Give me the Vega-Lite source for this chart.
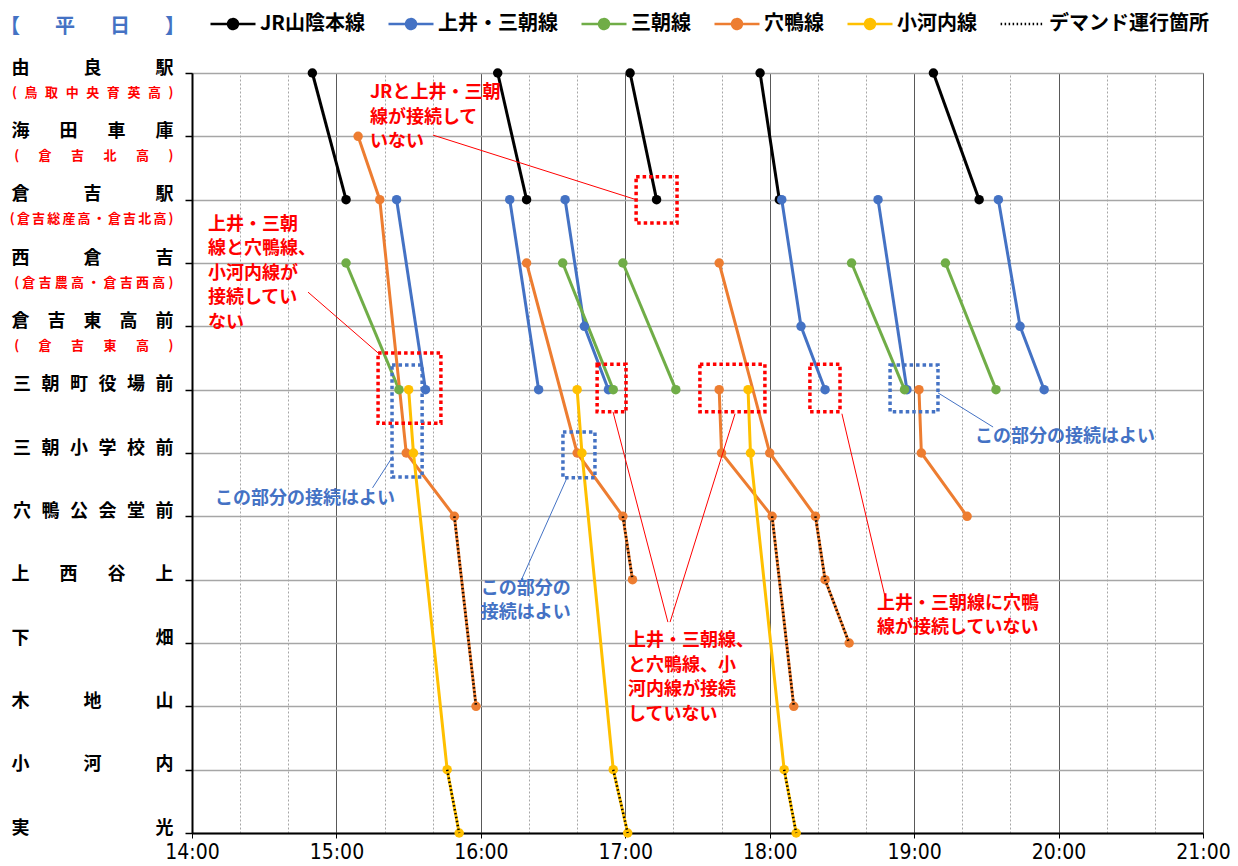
{
  "$schema": "https://vega.github.io/schema/vega-lite/v6.json",
  "width": 1011,
  "height": 760,
  "autosize": {"type": "none"},
  "padding": {"left": 192, "top": 73, "right": 35, "bottom": 33},
  "background": "white",
  "config": {
    "font": "Noto Sans CJK JP",
    "view": {"stroke": "#595959", "strokeWidth": 1}
  },
  "data": {
    "values": [
      {"line": "JR山陰本線", "trip": "JR1", "s": 0, "t": 890},
      {"line": "JR山陰本線", "trip": "JR1", "s": 2, "t": 904},
      {"line": "JR山陰本線", "trip": "JR2", "s": 0, "t": 967},
      {"line": "JR山陰本線", "trip": "JR2", "s": 2, "t": 979},
      {"line": "JR山陰本線", "trip": "JR3", "s": 0, "t": 1022},
      {"line": "JR山陰本線", "trip": "JR3", "s": 2, "t": 1033},
      {"line": "JR山陰本線", "trip": "JR4", "s": 0, "t": 1076},
      {"line": "JR山陰本線", "trip": "JR4", "s": 2, "t": 1084},
      {"line": "JR山陰本線", "trip": "JR5", "s": 0, "t": 1148},
      {"line": "JR山陰本線", "trip": "JR5", "s": 2, "t": 1167},
      {"line": "上井・三朝線", "trip": "U1", "s": 2, "t": 925},
      {"line": "上井・三朝線", "trip": "U1", "s": 5, "t": 937},
      {"line": "上井・三朝線", "trip": "U2", "s": 2, "t": 972},
      {"line": "上井・三朝線", "trip": "U2", "s": 5, "t": 984},
      {"line": "上井・三朝線", "trip": "U3", "s": 2, "t": 995},
      {"line": "上井・三朝線", "trip": "U3", "s": 4, "t": 1003},
      {"line": "上井・三朝線", "trip": "U3", "s": 5, "t": 1013},
      {"line": "上井・三朝線", "trip": "U4", "s": 2, "t": 1085},
      {"line": "上井・三朝線", "trip": "U4", "s": 4, "t": 1093},
      {"line": "上井・三朝線", "trip": "U4", "s": 5, "t": 1103},
      {"line": "上井・三朝線", "trip": "U5", "s": 2, "t": 1125},
      {"line": "上井・三朝線", "trip": "U5", "s": 5, "t": 1137},
      {"line": "上井・三朝線", "trip": "U6", "s": 2, "t": 1175},
      {"line": "上井・三朝線", "trip": "U6", "s": 4, "t": 1184},
      {"line": "上井・三朝線", "trip": "U6", "s": 5, "t": 1194},
      {"line": "三朝線", "trip": "M1", "s": 3, "t": 904},
      {"line": "三朝線", "trip": "M1", "s": 5, "t": 926},
      {"line": "三朝線", "trip": "M2", "s": 3, "t": 994},
      {"line": "三朝線", "trip": "M2", "s": 5, "t": 1015},
      {"line": "三朝線", "trip": "M3", "s": 3, "t": 1019},
      {"line": "三朝線", "trip": "M3", "s": 5, "t": 1041},
      {"line": "三朝線", "trip": "M4", "s": 3, "t": 1114},
      {"line": "三朝線", "trip": "M4", "s": 5, "t": 1136},
      {"line": "三朝線", "trip": "M5", "s": 3, "t": 1153},
      {"line": "三朝線", "trip": "M5", "s": 5, "t": 1174},
      {"line": "穴鴨線", "trip": "A1", "s": 1, "t": 909},
      {"line": "穴鴨線", "trip": "A1", "s": 2, "t": 918},
      {"line": "穴鴨線", "trip": "A1", "s": 6, "t": 929},
      {"line": "穴鴨線", "trip": "A1", "s": 7, "t": 949},
      {"line": "穴鴨線", "trip": "A1", "s": 10, "t": 958},
      {"line": "穴鴨線", "trip": "A2", "s": 3, "t": 979},
      {"line": "穴鴨線", "trip": "A2", "s": 6, "t": 1000},
      {"line": "穴鴨線", "trip": "A2", "s": 7, "t": 1019},
      {"line": "穴鴨線", "trip": "A2", "s": 8, "t": 1023},
      {"line": "穴鴨線", "trip": "A3", "s": 3, "t": 1059},
      {"line": "穴鴨線", "trip": "A3", "s": 6, "t": 1080},
      {"line": "穴鴨線", "trip": "A3", "s": 7, "t": 1099},
      {"line": "穴鴨線", "trip": "A3", "s": 8, "t": 1103},
      {"line": "穴鴨線", "trip": "A3", "s": 9, "t": 1113},
      {"line": "穴鴨線", "trip": "A4", "s": 5, "t": 1059},
      {"line": "穴鴨線", "trip": "A4", "s": 6, "t": 1060},
      {"line": "穴鴨線", "trip": "A4", "s": 7, "t": 1081},
      {"line": "穴鴨線", "trip": "A4", "s": 10, "t": 1090},
      {"line": "穴鴨線", "trip": "A5", "s": 5, "t": 1142},
      {"line": "穴鴨線", "trip": "A5", "s": 6, "t": 1143},
      {"line": "穴鴨線", "trip": "A5", "s": 7, "t": 1162},
      {"line": "小河内線", "trip": "K1", "s": 5, "t": 930},
      {"line": "小河内線", "trip": "K1", "s": 6, "t": 932},
      {"line": "小河内線", "trip": "K1", "s": 11, "t": 946},
      {"line": "小河内線", "trip": "K1", "s": 12, "t": 951},
      {"line": "小河内線", "trip": "K2", "s": 5, "t": 1000},
      {"line": "小河内線", "trip": "K2", "s": 6, "t": 1002},
      {"line": "小河内線", "trip": "K2", "s": 11, "t": 1015},
      {"line": "小河内線", "trip": "K2", "s": 12, "t": 1021},
      {"line": "小河内線", "trip": "K3", "s": 5, "t": 1071},
      {"line": "小河内線", "trip": "K3", "s": 6, "t": 1072},
      {"line": "小河内線", "trip": "K3", "s": 11, "t": 1086},
      {"line": "小河内線", "trip": "K3", "s": 12, "t": 1091},
      {"line": "デマンド運行箇所", "trip": "D1", "s": 7, "t": 949},
      {"line": "デマンド運行箇所", "trip": "D1", "s": 10, "t": 958},
      {"line": "デマンド運行箇所", "trip": "D2", "s": 7, "t": 1019},
      {"line": "デマンド運行箇所", "trip": "D2", "s": 8, "t": 1023},
      {"line": "デマンド運行箇所", "trip": "D3", "s": 7, "t": 1099},
      {"line": "デマンド運行箇所", "trip": "D3", "s": 8, "t": 1103},
      {"line": "デマンド運行箇所", "trip": "D3", "s": 9, "t": 1113},
      {"line": "デマンド運行箇所", "trip": "D4", "s": 7, "t": 1081},
      {"line": "デマンド運行箇所", "trip": "D4", "s": 10, "t": 1090},
      {"line": "デマンド運行箇所", "trip": "D5", "s": 11, "t": 946},
      {"line": "デマンド運行箇所", "trip": "D5", "s": 12, "t": 951},
      {"line": "デマンド運行箇所", "trip": "D6", "s": 11, "t": 1015},
      {"line": "デマンド運行箇所", "trip": "D6", "s": 12, "t": 1021},
      {"line": "デマンド運行箇所", "trip": "D7", "s": 11, "t": 1086},
      {"line": "デマンド運行箇所", "trip": "D7", "s": 12, "t": 1091}
    ]
  },
  "layer": [
    {
      "transform": [{"filter": "datum.line !== 'デマンド運行箇所'"}],
      "mark": {"type": "line", "strokeWidth": 3},
      "encoding": {
        "x": {
          "field": "t", "type": "quantitative", "title": null,
          "scale": {"domain": [840, 1260], "nice": false, "zero": false},
          "axis": {
            "title": null,
            "values": [840, 850, 860, 870, 880, 890, 900, 910, 920, 930, 940, 950, 960, 970, 980, 990, 1000, 1010, 1020, 1030, 1040, 1050, 1060, 1070, 1080, 1090, 1100, 1110, 1120, 1130, 1140, 1150, 1160, 1170, 1180, 1190, 1200, 1210, 1220, 1230, 1240, 1250, 1260],
            "labelExpr": "datum.value % 60 === 0 ? floor(datum.value / 60) + ':00' : ''",
            "labelFont": "Liberation Sans Narrow, DejaVu Sans Condensed, Liberation Sans",
            "labelFontSize": 21,
            "labelColor": "black",
            "labelPadding": 3,
            "labelFlush": false,
            "labelOverlap": false,
            "labelAngle": 0,
            "domainColor": "black",
            "domainWidth": 2,
            "grid": true,
            "gridColor": {"condition": {"test": "datum.value % 60 === 0", "value": "#595959"}, "value": "#A6A6A6"},
            "gridDash": {"condition": {"test": "datum.value % 60 === 0", "value": []}, "value": [2, 2]},
            "gridWidth": 1,
            "ticks": true,
            "tickSize": 5,
            "tickColor": "black",
            "tickOpacity": {"condition": {"test": "datum.value % 60 === 0", "value": 1}, "value": 0}
          }
        },
        "y": {
          "field": "s", "type": "quantitative", "title": null,
          "scale": {"domain": [0, 12], "reverse": true, "nice": false, "zero": false},
          "axis": {
            "title": null,
            "values": [0, 0.38, 1, 1.38, 2, 2.38, 3, 3.38, 4, 4.38, 5, 6, 7, 8, 9, 10, 11, 12],
            "labelExpr": "datum.value === floor(datum.value) ? ['由\u3000\u3000\u3000良\u3000\u3000\u3000駅','海\u3000\u2002\u2006田\u3000\u2002\u2006車\u3000\u2002\u2006庫','倉\u3000\u3000\u3000吉\u3000\u3000\u3000駅','西\u3000\u3000\u3000倉\u3000\u3000\u3000吉','倉\u3000吉\u3000東\u3000高\u3000前','三\u2004\u2005朝\u2004\u2005町\u2004\u2005役\u2004\u2005場\u2004\u2005前','三\u2004\u2005朝\u2004\u2005小\u2004\u2005学\u2004\u2005校\u2004\u2005前','穴\u2004\u2005鴨\u2004\u2005公\u2004\u2005会\u2004\u2005堂\u2004\u2005前','上\u3000\u2002\u2006西\u3000\u2002\u2006谷\u3000\u2002\u2006上','下\u3000\u3000\u3000\u3000\u3000\u3000\u3000畑','木\u3000\u3000\u3000地\u3000\u3000\u3000山','小\u3000\u3000\u3000河\u3000\u3000\u3000内','実\u3000\u3000\u3000\u3000\u3000\u3000\u3000光'][datum.value] : ['(\u2004\u2005鳥\u2004\u2005取\u2004\u2005中\u2004\u2005央\u2004\u2005育\u2004\u2005英\u2004\u2005高\u2004\u2005)','(\u3000\u2002倉\u3000\u2002吉\u3000\u2002北\u3000\u2002高\u3000\u2002)','(\u2006倉\u2006吉\u2006総\u2006産\u2006高\u2006・\u2006倉\u2006吉\u2006北\u2006高\u2006)','(\u2005倉\u2005吉\u2005農\u2005高\u2005・\u2005倉\u2005吉\u2005西\u2005高\u2005)','(\u3000\u2002倉\u3000\u2002吉\u3000\u2002東\u3000\u2002高\u3000\u2002)'][floor(datum.value)]",
            "labelFontSize": {"condition": {"test": "datum.value === floor(datum.value)", "value": 18}, "value": 13},
            "labelColor": {"condition": {"test": "datum.value === floor(datum.value)", "value": "black"}, "value": "#FF0000"},
            "labelFontWeight": "bold",
            "labelOffset": -5,
            "labelPadding": 12,
            "labelBaseline": "middle",
            "labelOverlap": false,
            "labelLimit": 250,
            "domainColor": "black",
            "domainWidth": 2,
            "ticks": true,
            "tickSize": 7,
            "tickColor": "black",
            "tickWidth": 1.5,
            "tickOpacity": {"condition": {"test": "datum.value === floor(datum.value)", "value": 1}, "value": 0},
            "grid": true,
            "gridColor": "#A6A6A6",
            "gridWidth": 1.5,
            "gridOpacity": {"condition": {"test": "datum.value === floor(datum.value)", "value": 1}, "value": 0}
          }
        },
        "color": {
          "field": "line", "type": "nominal",
          "scale": {
            "domain": ["JR山陰本線", "上井・三朝線", "三朝線", "穴鴨線", "小河内線", "デマンド運行箇所"],
            "range": ["#000000", "#4472C4", "#70AD47", "#ED7D31", "#FFC000", "#000000"]
          },
          "legend": {
            "orient": "none",
            "legendX": -192,
            "legendY": -73,
            "direction": "horizontal",
            "padding": 0,
            "title": "【\u3000\u2002\u2005平\u3000\u2002\u2005日\u3000\u2002\u2005】",
            "titleOrient": "left",
            "titleAnchor": "middle",
            "titleBaseline": "top",
            "titleColor": "#4472C4",
            "titleFont": "Noto Sans CJK JP",
            "titleFontSize": 20,
            "titleFontWeight": "bold",
            "titlePadding": 24,
            "titleLimit": 300,
            "labelFont": "Noto Sans CJK JP",
            "labelFontSize": 20,
            "labelFontWeight": "bold",
            "labelColor": "black",
            "labelOffset": 3,
            "labelLimit": 300,
            "symbolSize": 2025,
            "symbolOffset": 0,
            "symbolStrokeWidth": 2.5,
            "columnPadding": 18,
            "encode": {
              "symbols": {
                "update": {
                  "shape": {"signal": "datum.value === 'デマンド運行箇所' ? 'M-0.95,0H0.95' : 'M-1,0H1M0.22,0A0.22,0.22,0,1,1,-0.22,0A0.22,0.22,0,1,1,0.22,0Z'"},
                  "size": {"value": 2025},
                  "strokeDash": {"signal": "datum.value === 'デマンド運行箇所' ? [1.5, 2.5] : [1, 0]"},
                  "fill": {"scale": "color", "field": "value"},
                  "stroke": {"scale": "color", "field": "value"},
                  "opacity": {"value": 1},
                  "fillOpacity": {"value": 1}
                }
              }
            }
          }
        },
        "detail": {"field": "trip"},
        "order": {"field": "s", "type": "quantitative"}
      }
    },
    {
      "transform": [{"filter": "datum.line !== 'デマンド運行箇所'"}],
      "mark": {"type": "circle", "size": 90, "opacity": 1},
      "encoding": {
        "x": {"field": "t", "type": "quantitative", "title": null},
        "y": {"field": "s", "type": "quantitative", "title": null},
        "color": {"field": "line", "type": "nominal"}
      }
    },
    {
      "transform": [{"filter": "datum.line === 'デマンド運行箇所'"}],
      "mark": {"type": "line", "strokeWidth": 2.5, "strokeDash": [1.5, 2.5]},
      "encoding": {
        "x": {"field": "t", "type": "quantitative", "title": null},
        "y": {"field": "s", "type": "quantitative", "title": null},
        "color": {"field": "line", "type": "nominal"},
        "detail": {"field": "trip"},
        "order": {"field": "s", "type": "quantitative"}
      }
    },
    {
      "data": {
        "values": [
          {"t1": 1024.5, "t2": 1041.5, "s1": 1.64, "s2": 2.37, "kind": "bad"},
          {"t1": 917.3, "t2": 943.4, "s1": 4.42, "s2": 5.53, "kind": "bad"},
          {"t1": 1008.3, "t2": 1020.3, "s1": 4.6, "s2": 5.35, "kind": "bad"},
          {"t1": 1051, "t2": 1078, "s1": 4.6, "s2": 5.35, "kind": "bad"},
          {"t1": 1096.7, "t2": 1109.2, "s1": 4.6, "s2": 5.35, "kind": "bad"},
          {"t1": 923.1, "t2": 935.6, "s1": 4.61, "s2": 6.38, "kind": "good"},
          {"t1": 994.1, "t2": 1007.4, "s1": 5.67, "s2": 6.39, "kind": "good"},
          {"t1": 1130, "t2": 1149.9, "s1": 4.61, "s2": 5.35, "kind": "good"}
        ]
      },
      "mark": {"type": "rect", "fillOpacity": 0, "fill": "white", "strokeWidth": 3.5, "strokeDash": [3.5, 3]},
      "encoding": {
        "x": {"field": "t1", "type": "quantitative", "title": null},
        "x2": {"field": "t2"},
        "y": {"field": "s1", "type": "quantitative", "title": null},
        "y2": {"field": "s2"},
        "stroke": {"field": "kind", "type": "nominal", "scale": {"domain": ["bad", "good"], "range": ["#FF0000", "#4472C4"]}, "legend": null}
      }
    },
    {
      "data": {
        "values": [
          {"t1": 940.1, "s1": 0.98, "t2": 1024.5, "s2": 2.0, "kind": "bad"},
          {"t1": 888.2, "s1": 3.46, "t2": 917.3, "s2": 4.42, "kind": "bad"},
          {"t1": 923.5, "s1": 6.05, "t2": 915, "s2": 6.55, "kind": "good"},
          {"t1": 995.8, "s1": 6.39, "t2": 976.3, "s2": 8.05, "kind": "good"},
          {"t1": 1014.9, "s1": 5.35, "t2": 1037.7, "s2": 8.67, "kind": "bad"},
          {"t1": 1065.6, "s1": 5.38, "t2": 1038.6, "s2": 8.67, "kind": "bad"},
          {"t1": 1110, "s1": 5.38, "t2": 1127.9, "s2": 8.27, "kind": "bad"},
          {"t1": 1149.9, "s1": 5.05, "t2": 1172.8, "s2": 5.59, "kind": "good"}
        ]
      },
      "mark": {"type": "rule", "strokeWidth": 1},
      "encoding": {
        "x": {"field": "t1", "type": "quantitative", "title": null},
        "x2": {"field": "t2"},
        "y": {"field": "s1", "type": "quantitative", "title": null},
        "y2": {"field": "s2"},
        "stroke": {"field": "kind", "type": "nominal", "legend": null}
      }
    },
    {
      "data": {
        "values": [
          {"t": 913.9, "s": 0.18, "label": "JRと上井・三朝\n線が接続して\nいない", "kind": "bad"},
          {"t": 846.6, "s": 2.25, "label": "上井・三朝\n線と穴鴨線、\n小河内線が\n接続してい\nない", "kind": "bad"},
          {"t": 849.6, "s": 6.58, "label": "この部分の接続はよい", "kind": "good"},
          {"t": 960, "s": 8.0, "label": "この部分の\n接続はよい", "kind": "good"},
          {"t": 1021.1, "s": 8.83, "label": "上井・三朝線、\nと穴鴨線、小\n河内線が接続\nしていない", "kind": "bad"},
          {"t": 1124.6, "s": 8.24, "label": "上井・三朝線に穴鴨\n線が接続していない", "kind": "bad"},
          {"t": 1165.3, "s": 5.6, "label": "この部分の接続はよい", "kind": "good"}
        ]
      },
      "mark": {"type": "text", "align": "left", "baseline": "top", "lineBreak": "\n", "fontSize": 18, "fontWeight": "bold", "lineHeight": 24.5, "font": "Noto Sans CJK JP"},
      "encoding": {
        "x": {"field": "t", "type": "quantitative", "title": null},
        "y": {"field": "s", "type": "quantitative", "title": null},
        "text": {"field": "label"},
        "fill": {"field": "kind", "type": "nominal", "scale": {"domain": ["bad", "good"], "range": ["#FF0000", "#4472C4"]}, "legend": null}
      }
    }
  ]
}
